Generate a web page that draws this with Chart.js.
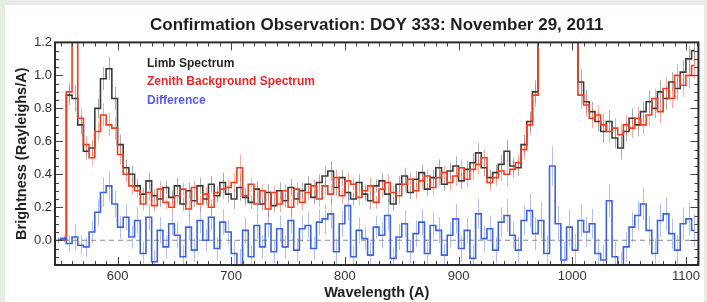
<!DOCTYPE html>
<html>
<head>
<meta charset="utf-8">
<script src="https://cdn.jsdelivr.net/npm/chart.js@4.4.1/dist/chart.umd.min.js"></script>
<style>
    html, body { margin: 0; padding: 0; background: #e7ece4; }
    #panel { position: absolute; left: 5px; top: 5px; width: 699px; height: 297px; background: #fff; }
    canvas { display: block; }
</style>
</head>
<body>
<div id="panel"><canvas id="spectrumChart" width="699" height="297"></canvas></div>
<script>
// --- Spectrum data: 5 A bins starting at 545 A ---
const BIN_START = 545;
const BIN_WIDTH = 5;

const limbSpectrum = [
    0.00, 0.01, 0.88, 0.86, 0.70, 0.54, 0.56, 0.80, 0.98, 1.04,
    0.86, 0.58, 0.44, 0.40, 0.33, 0.28, 0.36, 0.27, 0.25, 0.32,
    0.26, 0.33, 0.22, 0.30, 0.24, 0.33, 0.25, 0.34, 0.27, 0.35,
    0.28, 0.25, 0.32, 0.26, 0.23, 0.31, 0.22, 0.29, 0.21, 0.30,
    0.24, 0.32, 0.25, 0.30, 0.34, 0.26, 0.35, 0.39, 0.42, 0.32,
    0.38, 0.29, 0.25, 0.35, 0.28, 0.24, 0.33, 0.36, 0.28, 0.22,
    0.34, 0.39, 0.29, 0.37, 0.41, 0.31, 0.38, 0.44, 0.34, 0.42,
    0.45, 0.36, 0.43, 0.47, 0.53, 0.44, 0.38, 0.41, 0.46, 0.54,
    0.45, 0.44, 0.58, 0.72, 0.90, 1.50, 2.00, 2.20, 2.00, 1.80,
    1.60, 1.30, 0.96, 0.84, 0.78, 0.72, 0.66, 0.72, 0.62, 0.56,
    0.66, 0.74, 0.70, 0.78, 0.84, 0.80, 0.90, 0.86, 0.96, 0.92,
    1.02, 1.10, 1.15
];

const zenithSpectrum = [
    0.00, 0.00, 0.90, 1.60, 0.74, 0.58, 0.50, 0.66, 0.76, 0.70,
    0.68, 0.52, 0.40, 0.33, 0.30, 0.22, 0.29, 0.21, 0.31, 0.23,
    0.20, 0.27, 0.31, 0.19, 0.32, 0.22, 0.28, 0.20, 0.29, 0.31,
    0.32, 0.35, 0.44, 0.27, 0.34, 0.22, 0.30, 0.19, 0.29, 0.22,
    0.30, 0.20, 0.31, 0.23, 0.29, 0.33, 0.25, 0.33, 0.28, 0.38,
    0.27, 0.36, 0.34, 0.26, 0.30, 0.33, 0.23, 0.31, 0.35, 0.29,
    0.27, 0.34, 0.37, 0.30, 0.36, 0.39, 0.32, 0.38, 0.41, 0.35,
    0.39, 0.44, 0.37, 0.43, 0.46, 0.50, 0.35, 0.38, 0.42, 0.40,
    0.43, 0.47, 0.55, 0.70, 0.88, 1.50, 2.00, 2.10, 2.00, 1.80,
    1.60, 1.35, 0.88, 0.82, 0.74, 0.76, 0.70, 0.66, 0.68, 0.64,
    0.70, 0.68, 0.74, 0.70, 0.76, 0.86, 0.78, 0.92, 0.86, 1.00,
    0.94, 1.00, 1.06
];

const differenceSpectrum = [
    0.00, 0.01, -0.02, 0.02, -0.03, -0.04, 0.05, 0.17, 0.29, 0.33,
    0.22, 0.08, 0.14, 0.02, 0.12, -0.08, 0.14, -0.13, 0.06, -0.04,
    0.10, 0.03, -0.10, 0.08, -0.06, 0.12, 0.00, 0.14, -0.05, 0.11,
    0.05, -0.08, -0.15, 0.06, -0.10, 0.09, -0.04, 0.10, -0.07, 0.07,
    -0.04, 0.12, -0.06, 0.07, 0.09, -0.05, 0.11, 0.13, 0.16, -0.07,
    0.10, 0.21, -0.10, 0.06, 0.01, -0.09, 0.08, 0.03, 0.15, -0.11,
    0.02, 0.10, -0.07, 0.04, 0.11, -0.08, 0.09, 0.06, -0.09, 0.03,
    0.13, -0.05, 0.06, -0.11, 0.16, 0.01, 0.07, -0.06, 0.11, 0.15,
    0.03, -0.06, 0.12, 0.18, 0.04, 0.12, -0.08, 0.45, 0.10, -0.12,
    0.08, -0.06, 0.12, 0.05, 0.10, -0.08, -0.12, 0.24, -0.10, -0.16,
    -0.04, 0.08, 0.15, 0.22, 0.06, -0.08, 0.12, 0.16, 0.04, -0.06,
    0.10, 0.13, 0.06
];

// 1-sigma errors (shared by limb and zenith spectra)
const spectrumErrors = [
    0.01, 0.01, 0.06, 0.08, 0.06, 0.05, 0.05, 0.06, 0.07, 0.07,
    0.07, 0.06, 0.05, 0.05, 0.04, 0.04, 0.05, 0.04, 0.05, 0.04,
    0.04, 0.05, 0.04, 0.05, 0.04, 0.05, 0.04, 0.05, 0.04, 0.06,
    0.05, 0.06, 0.08, 0.05, 0.04, 0.05, 0.04, 0.05, 0.04, 0.05,
    0.04, 0.05, 0.04, 0.05, 0.05, 0.04, 0.05, 0.06, 0.06, 0.05,
    0.05, 0.05, 0.04, 0.05, 0.04, 0.05, 0.04, 0.05, 0.05, 0.04,
    0.05, 0.05, 0.04, 0.05, 0.05, 0.04, 0.05, 0.05, 0.04, 0.05,
    0.06, 0.05, 0.05, 0.06, 0.06, 0.05, 0.05, 0.05, 0.06, 0.07,
    0.05, 0.05, 0.06, 0.06, 0.07, 0.08, 0.08, 0.08, 0.08, 0.08,
    0.08, 0.08, 0.08, 0.07, 0.06, 0.06, 0.07, 0.07, 0.06, 0.07,
    0.06, 0.06, 0.07, 0.06, 0.07, 0.06, 0.07, 0.07, 0.06, 0.07,
    0.07, 0.08, 0.08
];

const differenceErrors = [
    0.02, 0.02, 0.05, 0.08, 0.06, 0.06, 0.07, 0.08, 0.09, 0.09,
    0.08, 0.07, 0.08, 0.07, 0.08, 0.07, 0.08, 0.07, 0.08, 0.07,
    0.07, 0.08, 0.07, 0.08, 0.07, 0.08, 0.07, 0.08, 0.07, 0.08,
    0.07, 0.08, 0.10, 0.08, 0.07, 0.08, 0.07, 0.08, 0.07, 0.08,
    0.07, 0.08, 0.07, 0.08, 0.08, 0.07, 0.08, 0.09, 0.09, 0.08,
    0.08, 0.09, 0.07, 0.08, 0.07, 0.08, 0.07, 0.08, 0.09, 0.07,
    0.08, 0.08, 0.07, 0.08, 0.08, 0.07, 0.08, 0.08, 0.07, 0.08,
    0.09, 0.08, 0.08, 0.08, 0.09, 0.08, 0.08, 0.08, 0.09, 0.10,
    0.08, 0.08, 0.09, 0.10, 0.10, 0.11, 0.11, 0.12, 0.11, 0.11,
    0.11, 0.10, 0.10, 0.09, 0.09, 0.09, 0.09, 0.10, 0.09, 0.09,
    0.09, 0.09, 0.09, 0.10, 0.09, 0.09, 0.10, 0.10, 0.09, 0.09,
    0.10, 0.10, 0.10
];

const xTickValues = [600, 700, 800, 900, 1000, 1100];
const yTickValues = [0.0, 0.2, 0.4, 0.6, 0.8, 1.0, 1.2];
const seriesLabels = ["Limb Spectrum", "Zenith Background Spectrum", "Difference"];

const FONT = "'Liberation Sans', Arial, Helvetica, sans-serif";
const LINE_COLORS = { limb: "#3a3a3a", zenith: "#ef3d22", diff: "#3d62db" };
const ERROR_COLORS = {
    limb: "rgba(70, 70, 70, 0.45)",
    zenith: "rgba(245, 105, 75, 0.55)",
    diff: "rgba(85, 115, 225, 0.45)"
};
const LEGEND_COLORS = ["#262626", "#e8282a", "#5a5ae6"];

// bin centres
const wavelengths = limbSpectrum.map((_, i) => BIN_START + BIN_WIDTH * (i + 0.5));
const toPoints = values => values.map((v, i) => ({ x: wavelengths[i], y: v }));

const errorSets = [
    { values: limbSpectrum, errors: spectrumErrors, color: ERROR_COLORS.limb },
    { values: zenithSpectrum, errors: spectrumErrors, color: ERROR_COLORS.zenith },
    { values: differenceSpectrum, errors: differenceErrors, color: ERROR_COLORS.diff }
];

// --- error bars, frame, inside ticks and text legend ---
const spectrumDecor = {
    id: "spectrumDecor",
    beforeDatasetsDraw(chart) {
        const { ctx, chartArea, scales } = chart;
        ctx.save();
        ctx.beginPath();
        ctx.rect(chartArea.left, chartArea.top, chartArea.width, chartArea.height);
        ctx.clip();
        ctx.lineWidth = 1;
        errorSets.forEach(set => {
            ctx.strokeStyle = set.color;
            ctx.beginPath();
            set.values.forEach((v, i) => {
                const px = Math.round(scales.x.getPixelForValue(wavelengths[i])) + 0.5;
                ctx.moveTo(px, scales.y.getPixelForValue(v - set.errors[i]));
                ctx.lineTo(px, scales.y.getPixelForValue(v + set.errors[i]));
            });
            ctx.stroke();
        });
        ctx.restore();
    },
    afterDraw(chart) {
        const { ctx, chartArea: a, scales } = chart;
        ctx.save();

        // minor / major ticks pointing inward on all four sides
        ctx.strokeStyle = "#444";
        ctx.lineWidth = 1;
        ctx.beginPath();
        for (let w = 550; w <= 1110; w += 10) {
            const px = Math.round(scales.x.getPixelForValue(w)) + 0.5;
            const len = w % 100 === 0 ? 8 : 4;
            ctx.moveTo(px, a.bottom); ctx.lineTo(px, a.bottom - len);
            ctx.moveTo(px, a.top); ctx.lineTo(px, a.top + len);
        }
        for (let k = -3; k <= 24; k++) {
            const py = Math.round(scales.y.getPixelForValue(k * 0.05)) + 0.5;
            const len = k % 4 === 0 ? 8 : 4;
            ctx.moveTo(a.left, py); ctx.lineTo(a.left + len, py);
            ctx.moveTo(a.right, py); ctx.lineTo(a.right - len, py);
        }
        ctx.stroke();

        // plot frame
        ctx.strokeStyle = "#2a2a2a";
        ctx.lineWidth = 2;
        ctx.strokeRect(a.left, a.top, a.width, a.height);

        // text-only legend
        ctx.font = "bold 12px " + FONT;
        ctx.textBaseline = "middle";
        ctx.textAlign = "left";
        seriesLabels.forEach((label, i) => {
            ctx.fillStyle = LEGEND_COLORS[i];
            ctx.fillText(label, a.left + 92, a.top + 21 + i * 18.5);
        });
        ctx.restore();
    }
};

const ctx = document.getElementById("spectrumChart").getContext("2d");
new Chart(ctx, {
    type: "line",
    data: {
        datasets: [
            {
                label: seriesLabels[0],
                data: toPoints(limbSpectrum),
                borderColor: LINE_COLORS.limb,
                borderWidth: 1.6,
                stepped: "middle",
                pointRadius: 0,
                order: 3
            },
            {
                label: seriesLabels[1],
                data: toPoints(zenithSpectrum),
                borderColor: LINE_COLORS.zenith,
                borderWidth: 1.6,
                stepped: "middle",
                pointRadius: 0,
                order: 2
            },
            {
                label: seriesLabels[2],
                data: toPoints(differenceSpectrum),
                borderColor: LINE_COLORS.diff,
                borderWidth: 1.6,
                stepped: "middle",
                pointRadius: 0,
                order: 1
            },
            {
                label: "zero",
                data: [{ x: 545, y: 0 }, { x: 1111, y: 0 }],
                borderColor: "#8a8a8a",
                borderWidth: 1,
                borderDash: [5, 4],
                pointRadius: 0,
                order: 4
            }
        ]
    },
    options: {
        responsive: false,
        animation: false,
        layout: { padding: { left: 0, right: 4, top: 0, bottom: 0 } },
        plugins: {
            legend: { display: false },
            tooltip: { enabled: false },
            title: {
                display: true,
                text: "Confirmation Observation: DOY 333: November 29, 2011",
                color: "#1e1e1e",
                font: { family: FONT, size: 17, weight: "bold" },
                padding: { top: 10, bottom: 7 },
                fullSize: false
            }
        },
        scales: {
            x: {
                type: "linear",
                min: 545,
                max: 1111,
                afterBuildTicks: s => { s.ticks = xTickValues.map(v => ({ value: v })); },
                afterFit: s => { s.height = 37; },
                grid: { display: false, drawTicks: false },
                border: { display: false },
                ticks: {
                    color: "#333",
                    font: { family: FONT, size: 13 },
                    padding: 4,
                    maxRotation: 0,
                    callback: v => String(v)
                },
                title: {
                    display: true,
                    text: "Wavelength (A)",
                    color: "#1e1e1e",
                    font: { family: FONT, size: 14.5, weight: "bold" },
                    padding: { top: 0, bottom: 0 }
                }
            },
            y: {
                min: -0.15,
                max: 1.2,
                afterBuildTicks: s => { s.ticks = yTickValues.map(v => ({ value: v })); },
                afterFit: s => { s.width = 50; },
                grid: { display: false, drawTicks: false },
                border: { display: false },
                ticks: {
                    color: "#333",
                    font: { family: FONT, size: 13 },
                    padding: 3,
                    callback: v => v.toFixed(1)
                },
                title: {
                    display: true,
                    text: "Brightness (Rayleighs/A)",
                    color: "#1e1e1e",
                    font: { family: FONT, size: 14.5, weight: "bold" },
                    padding: { top: 8, bottom: 0 }
                }
            }
        }
    },
    plugins: [spectrumDecor]
});
</script>
</body>
</html>
